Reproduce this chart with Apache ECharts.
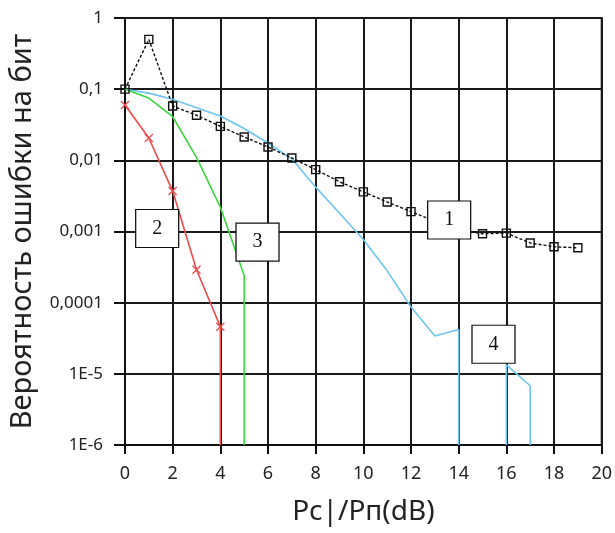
<!DOCTYPE html>
<html>
<head>
<meta charset="utf-8">
<script src="https://cdn.jsdelivr.net/npm/echarts@6/dist/echarts.min.js"></script>
<style>
	html, body { margin: 0; padding: 0; background: #fff; }
	#chart { width: 615px; height: 533px; }
</style>
</head>
<body>
<div id="chart"></div>
<script>
// данные
var FLOOR = 1e-6;
var xTicks = [0, 2, 4, 6, 8, 10, 12, 14, 16, 18, 20];
var yTickLabels = ['1E-6', '1E-5', '0,0001', '0,001', '0,01', '0,1', '1'];

// 1 - черная с квадратами
var snr1 = [0, 1, 2, 3, 4, 5, 6, 7, 8, 9, 10, 11, 12, 13, 14, 15, 16, 17, 18, 19];
var ber1 = [0.1, 0.5, 0.058, 0.043, 0.030, 0.0213, 0.0154, 0.0108, 0.0074, 0.0050, 0.0036, 0.0026, 0.0019, 0.0014, 0.00105, 0.00093, 0.00095, 0.00069, 0.00061, 0.00059];

// 2 - красная с крестиками
var snr2 = [0, 1, 2, 3, 4, 4];
var ber2 = [0.06, 0.0206, 0.0037, 0.00029, 0.000046, FLOOR];

// 3 - зеленая
var snr3 = [0, 1, 2, 3, 4, 5, 5];
var ber3 = [0.1, 0.075, 0.041, 0.011, 0.0022, 0.00024, FLOOR];

// 4 - голубая
var snr4 = [0, 1, 2, 3, 4, 5, 6, 7, 8, 9, 10, 11, 12, 13, 14, 14, 15, 16, 16, 17, 17];
var ber4 = [0.1, 0.088, 0.072, 0.055, 0.042, 0.028, 0.0175, 0.0105, 0.0042, 0.0018, 0.00077, 0.00028, 0.000087, 0.000034, 0.000042, FLOOR, null, FLOOR, 0.0000134, 0.0000068, FLOOR];

// подписи кривых
var tagNames = ['1', '2', '3', '4'];
var tagX = [13.6, 1.35, 5.56, 15.46];
var tagY = [0.00145, 0.0011, 0.00071, 0.000026];

(function () {
	function pairs(xs, ys, hideFloorSymbol) {
		var out = [];
		for (var i = 0; i < xs.length; i++) {
			if (ys[i] === null) {
				out.push([xs[i], '-']);
			} else if (hideFloorSymbol && ys[i] === FLOOR) {
				out.push({ value: [xs[i], ys[i]], symbol: 'none' });
			} else {
				out.push([xs[i], ys[i]]);
			}
		}
		return out;
	}

	var tags = [];
	for (var i = 0; i < tagNames.length; i++) {
		tags.push({ value: [tagX[i], tagY[i]], name: tagNames[i] });
	}

	var font = 'Noto Sans';
	var myChart = echarts.init(document.getElementById('chart'));
	var option = {
		animation: false,
		grid: {
			left: 122,
			right: 11,
			top: 18,
			bottom: 88,
			show: true,
			borderColor: '#111',
			borderWidth: 2
		},
		xAxis: {
			type: 'value',
			min: 0,
			max: 20,
			interval: 2,
			name: 'Pc|/Pп(dB)',
			nameLocation: 'middle',
			nameGap: 53,
			nameTextStyle: { fontFamily: font, fontSize: 28, color: '#222' },
			axisLine: { show: true, onZero: false, lineStyle: { color: '#111', width: 2 } },
			axisTick: { show: true, length: 9, lineStyle: { color: '#111', width: 2 } },
			axisLabel: {
				fontFamily: font, fontSize: 18, color: '#222', margin: 20,
				formatter: function (v) { return xTicks.indexOf(v) >= 0 ? String(v) : ''; }
			},
			splitLine: { show: true, lineStyle: { color: '#1a1a1a', width: 2 } }
		},
		yAxis: {
			type: 'log',
			logBase: 10,
			min: 1e-6,
			max: 1,
			name: 'Вероятность ошибки на бит',
			nameLocation: 'middle',
			nameGap: 88,
			nameTextStyle: { fontFamily: font, fontSize: 29, color: '#222' },
			axisLine: { show: true, lineStyle: { color: '#111', width: 2 } },
			axisTick: { show: true, length: 11, lineStyle: { color: '#111', width: 2 } },
			axisLabel: {
				fontFamily: font, fontSize: 17, color: '#222', margin: 22,
				formatter: function (v) {
					var k = Math.round(Math.log(v) / Math.LN10) + 6;
					return yTickLabels[k] || '';
				}
			},
			minorTick: { show: false },
			splitLine: { show: true, lineStyle: { color: '#1a1a1a', width: 2 } }
		},
		series: [
			{
				name: '4',
				type: 'line',
				data: pairs(snr4, ber4, false),
				symbol: 'none',
				connectNulls: false,
				lineStyle: { color: '#6cc6ee', width: 1.6 },
				z: 3
			},
			{
				name: '3',
				type: 'line',
				data: pairs(snr3, ber3, false),
				symbol: 'none',
				lineStyle: { color: '#3ad83a', width: 1.6 },
				z: 3
			},
			{
				name: '2',
				type: 'line',
				data: pairs(snr2, ber2, true),
				symbol: 'path://M0,0L10,10M10,0L0,10',
				symbolSize: 8,
				showAllSymbol: true,
				itemStyle: { color: 'none', borderColor: '#ee4a4a', borderWidth: 1.3 },
				lineStyle: { color: '#ee4a4a', width: 1.6 },
				z: 4
			},
			{
				name: '1',
				type: 'line',
				data: pairs(snr1, ber1, false),
				symbol: 'rect',
				symbolSize: 8,
				showAllSymbol: true,
				itemStyle: { color: 'rgba(255,255,255,0)', borderColor: '#111', borderWidth: 1.4 },
				lineStyle: { color: '#111', width: 1.4, type: [3, 2] },
				z: 5
			},
			{
				name: 'tags',
				type: 'scatter',
				data: tags,
				symbol: 'rect',
				symbolSize: [43, 38],
				itemStyle: { color: '#fff', opacity: 1, borderColor: '#111', borderWidth: 1.2 },
				label: {
					show: true,
					position: 'inside',
					formatter: '{b}',
					fontFamily: 'Liberation Serif',
					fontSize: 20,
					color: '#111'
				},
				z: 10
			}
		]
	};
	myChart.setOption(option);
})();
</script>
</body>
</html>
